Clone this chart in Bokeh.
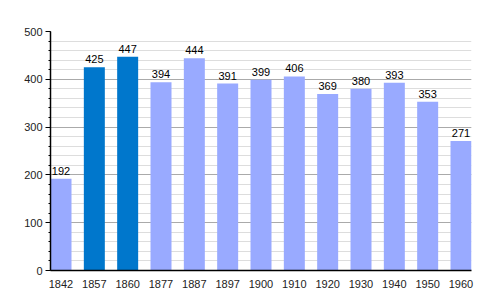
from bokeh.plotting import figure
from bokeh.models import ColumnDataSource, Range1d, FixedTicker, LabelSet
from bokeh.core.properties import value
from bokeh.embed import file_html
from bokeh.resources import INLINE

years = ["1842", "1857", "1860", "1877", "1887", "1897", "1900", "1910", "1920", "1930", "1940", "1950", "1960"]
population = [192, 425, 447, 394, 444, 391, 399, 406, 369, 380, 393, 353, 271]
highlight = [False, True, True, False, False, False, False, False, False, False, False, False, False]

DARK = "#0077cc"
LIGHT = "#99aaff"

xs = list(range(len(years)))
colors = [DARK if h else LIGHT for h in highlight]
src = ColumnDataSource(dict(x=xs, top=population, color=colors, label=[str(v) for v in population]))

p = figure(width=500, height=300, output_backend="svg", toolbar_location=None,
           x_range=Range1d(-0.315, len(years) - 1 + 0.315), y_range=Range1d(0, 500),
           min_border_left=50, min_border_right=29, min_border_top=31, min_border_bottom=30)
p.outline_line_color = None
p.background_fill_color = "white"

p.vbar(x="x", top="top", width=0.63, fill_color="color", line_color=None, source=src)

labels = LabelSet(x="x", y="top", text="label", source=src, text_align="center",
                  text_baseline="bottom", y_offset=4, text_font_size=value("11px"),
                  text_font=value("Liberation Sans"), text_color=value("#000000"))
p.add_layout(labels)

# x axis
p.xaxis.ticker = FixedTicker(ticks=xs)
p.xaxis.major_label_overrides = {i: y for i, y in enumerate(years)}
p.xaxis.major_tick_line_color = None
p.xaxis.minor_tick_line_color = None
p.xaxis.axis_line_color = "black"
p.xaxis.axis_line_width = 1.5
p.xaxis.major_label_text_font = "Liberation Sans"
p.xaxis.major_label_text_font_size = "11px"
p.xaxis.major_label_text_color = "#222222"
p.xaxis.major_label_standoff = 3
p.xgrid.grid_line_color = None

# y axis
p.yaxis.ticker = FixedTicker(ticks=[0, 100, 200, 300, 400, 500],
                             minor_ticks=list(range(0, 501, 20)))
p.yaxis.axis_line_color = "black"
p.yaxis.axis_line_width = 1.5
p.yaxis.major_tick_line_color = "black"
p.yaxis.major_tick_out = 5
p.yaxis.major_tick_in = 0
p.yaxis.minor_tick_line_color = "black"
p.yaxis.minor_tick_out = 2
p.yaxis.minor_tick_in = 0
p.yaxis.major_label_text_font = "Liberation Sans"
p.yaxis.major_label_text_font_size = "11px"
p.yaxis.major_label_text_color = "#222222"
p.yaxis.major_label_standoff = 3
p.ygrid.grid_line_color = "#aaaaaa"
p.ygrid.minor_grid_line_color = "#dddddd"
p.ygrid.level = "underlay"

open("out.html", "w").write(file_html(p, INLINE))
